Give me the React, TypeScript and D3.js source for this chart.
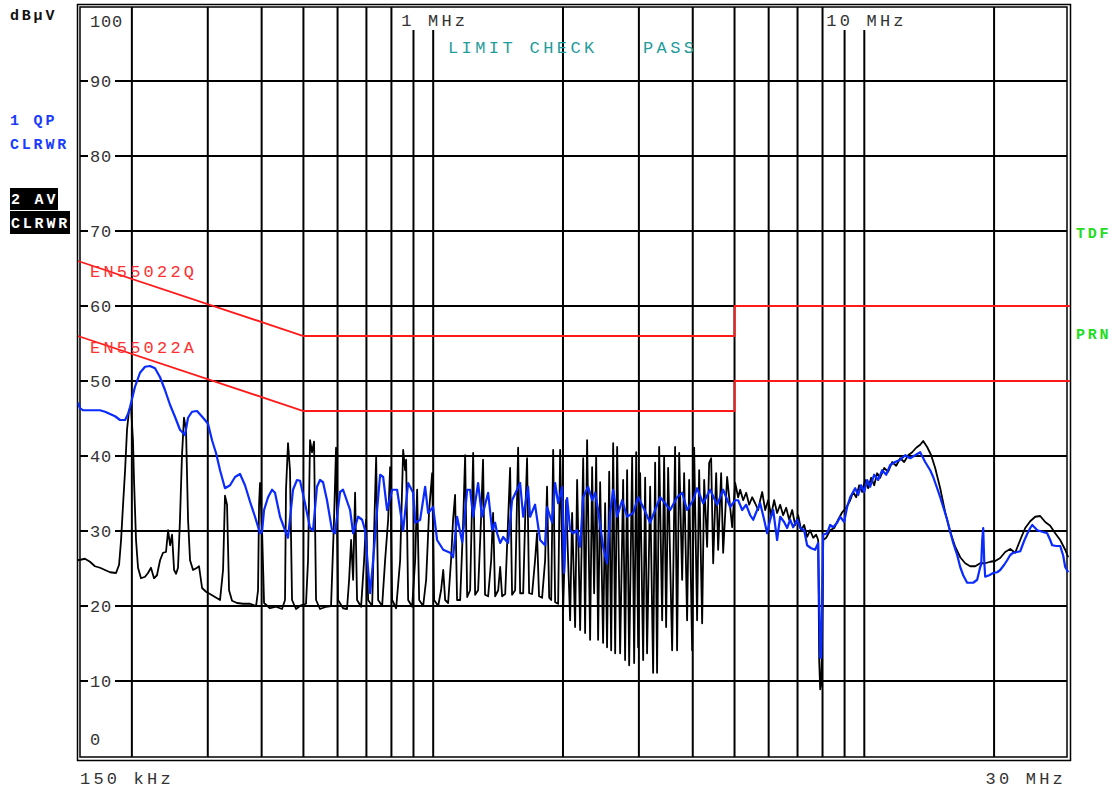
import React, { useRef, useEffect } from "react";
import * as d3 from "d3";

// AV trace (black), frequency in kHz / level in dBµV
const AV_FREQ_KHZ = [
  150, 155.7, 159.9, 164.2, 168.7, 173.3, 178, 183.8, 186.8, 188.8, 190.8, 192.9, 194.9, 197, 199.1, 201.2, 202.3,
  204.5, 206.7, 210, 214.6, 218, 221.5, 225.1, 228.7, 232.5, 236.2, 240, 242.7, 245.3, 247.9, 250.6, 253.3, 255.9,
  258.6, 261.4, 264.2, 267.1, 270, 272.9, 277.3, 283.3, 286.3, 291, 297.2, 303.6, 311.8, 320.3, 325.5, 328.9, 332.5,
  336.1, 341.5, 350.7, 362.2, 376, 388.3, 392.4, 394.5, 396.6, 400.9, 405.2, 418.3, 432, 446, 453.2, 455.6, 460.5,
  465.4, 470.5, 480.6, 493.6, 507, 512.5, 518, 523.5, 529.2, 534.9, 546.4, 564.2, 579.5, 588.8, 595.2, 601.6, 617.9,
  631.1, 638.2, 645, 652, 658.9, 665.9, 680.4, 691.4, 698.9, 706.5, 721.8, 729.5, 737.4, 745.2, 761.3, 773.5, 786.1,
  794.5, 803.1, 820.5, 838.2, 851.8, 860.8, 865.4, 874.8, 893.7, 908.2, 917.8, 927.8, 947.8, 963.1, 978.6, 994.4,
  1005, 1027, 1043, 1055, 1066, 1083, 1100, 1112, 1124, 1136, 1155, 1174, 1186, 1199, 1218, 1238, 1251, 1271, 1291,
  1305, 1319, 1341, 1363, 1377, 1392, 1415, 1430, 1445, 1469, 1492, 1508, 1524, 1549, 1574, 1591, 1617, 1634, 1651,
  1669, 1696, 1723, 1741, 1760, 1789, 1818, 1837, 1858, 1878, 1898, 1918, 1949, 1970, 2002, 2034, 2078, 2100, 2134,
  2157, 2192, 2228, 2251, 2275, 2312, 2337, 2362, 2388, 2413, 2439, 2478, 2505, 2531, 2560, 2587, 2615, 2643, 2671,
  2714, 2758, 2787, 2817, 2848, 2894, 2925, 2957, 2988, 3020, 3069, 3102, 3134, 3186, 3237, 3272, 3306, 3343, 3397,
  3433, 3470, 3507, 3583, 3640, 3679, 3720, 3780, 3820, 3881, 3924, 3987, 4030, 4094, 4139, 4206, 4251, 4319, 4366,
  4413, 4461, 4533, 4581, 4655, 4705, 4806, 4937, 5017, 5098, 5153, 5236, 5321, 5407, 5494, 5582, 5673, 5734, 5796,
  5889, 5984, 6080, 6178, 6277, 6380, 6483, 6588, 6695, 6803, 6912, 7024, 7137, 7252, 7368, 7488, 7610, 7733, 7816,
  7858, 7900, 7942, 7984, 8027, 8158, 8333, 8513, 8697, 8885, 9077, 9273, 9424, 9576, 9730, 9887, 10046, 10209,
  10373, 10541, 10709, 10884, 11119, 11360, 11605, 11856, 12112, 12373, 12641, 12914, 13193, 13478, 13696, 13988,
  14293, 14602, 14998, 15403, 15821, 16248, 16689, 17139, 17604, 18080, 18571, 19072, 19590, 20119, 20664, 21222,
  21798, 22387, 22994, 23616, 24256, 24911, 25587, 26278, 26991, 27720, 28471, 29240, 29716,
];
const AV_DBUV = [
  26.1, 26.3, 25.9, 25.3, 25.1, 24.8, 24.5, 24.4, 25.5, 28.8, 33.5, 38.1, 43.5, 46.1, 46.5, 42.1, 36.8,
  28.8, 25.1, 23.7, 23.9, 24.4, 25.1, 23.7, 24.1, 26.1, 27.1, 27.2, 30.1, 28.1, 29.5, 24.8, 24.3, 25.1,
  31.5, 40.1, 45.1, 43.5, 31.5, 26.1, 24.8, 25.1, 25.3, 22.4, 21.9, 21.6, 21.2, 20.8, 24.8, 34.7, 33.5,
  22.1, 20.7, 20.4, 20.3, 20.3, 20.0, 22.1, 33.5, 36.4, 30.1, 20.4, 19.7, 19.9, 19.6, 20.8, 35.5, 41.7,
  38.1, 20.8, 19.6, 20.1, 20.3, 26.1, 42.1, 40.5, 41.9, 20.8, 19.6, 19.9, 20.0, 31.5, 41.1, 20.8, 19.7,
  19.6, 23.5, 28.8, 23.5, 35.1, 20.8, 19.9, 26.1, 31.5, 20.8, 20.0, 30.1, 39.9, 20.8, 20.0, 26.1, 31.5,
  38.5, 20.8, 19.7, 26.1, 40.8, 38.1, 39.5, 20.8, 19.9, 26.1, 35.5, 20.8, 20.0, 23.5, 32.8, 37.7,
  20.8, 20.0, 22.1, 24.8, 20.8, 20.4, 26.1, 31.5, 34.8, 20.8, 20.8, 31.5, 40.1, 21.2, 22.1, 40.4, 21.5, 22.1, 31.5,
  39.5, 21.5, 21.3, 26.1, 32.4, 21.3, 22.1, 25.2, 21.3, 21.6, 31.5, 38.4, 21.5, 22.1, 41.1, 21.7, 21.7, 31.5, 39.7,
  21.7, 21.6, 26.1, 29.7, 21.3, 21.1, 26.1, 35.9, 21.1, 20.8, 40.8, 20.5, 20.3, 40.8, 19.5, 34.1, 18.1, 32.4, 17.2,
  36.8, 16.8, 39.7, 16.4, 42.1, 15.5, 38.5, 21.7, 39.9, 15.5, 36.5, 15.1, 33.7, 14.5, 37.9, 14.1, 41.7, 13.7, 41.2,
  13.7, 36.8, 12.8, 38.1, 12.1, 39.9, 12.4, 40.5, 14.5, 37.7, 12.8, 37.1, 13.7, 35.9, 11.1, 39.1, 11.1, 41.2, 18.1,
  39.9, 17.2, 38.4, 14.1, 41.2, 14.1, 40.4, 23.5, 37.7, 18.1, 36.8, 14.1, 41.1, 18.1, 38.1, 17.7, 36.8, 27.9, 39.1,
  39.7, 25.7, 37.7, 27.5, 37.7, 27.1, 37.2, 30.5, 36.4, 34.5, 35.5, 34.1, 35.1, 33.5, 34.5, 33.7, 32.8, 34.1, 35.2,
  32.8, 34.1, 32.1, 34.1, 32.4, 33.5, 32.1, 33.1, 31.5, 32.8, 30.8, 32.1, 30.1, 30.8, 29.2, 30.1, 29.1, 29.5, 28.8,
  12.8, 8.9, 9.5, 15.5, 28.8, 29.1, 30.1, 30.4, 31.5, 32.5, 33.1, 34.1, 35.2, 34.5, 36.1, 35.2, 36.8, 35.7,
  37.1, 36.1, 37.7, 37.1, 38.4, 37.9, 39.2, 38.7, 39.7, 39.2, 40.1, 40.5, 41.1, 41.5, 42.0, 41.2,
  40.1, 38.4, 35.7, 32.5, 29.9, 27.9, 26.5, 25.7, 25.3, 25.3, 25.7, 25.7, 25.9, 26.0, 26.4, 27.2,
  27.6, 27.1, 28.8, 30.4, 31.3, 31.9, 32.0, 31.2, 30.7, 29.7, 28.8, 27.5, 26.5,
];

// QP trace (blue)
const QP_FREQ_KHZ = [
  150, 151.6, 154, 159.9, 168.7, 173.3, 178, 182.8, 187.8, 192.9, 195.9, 198, 203.3, 208.9, 214.6, 220.3, 226.3,
  232.5, 238.7, 245.3, 251.9, 258.6, 265.6, 270, 275.8, 283.3, 292.5, 300.4, 306.9, 313.5, 320.3, 328.9, 337.9, 347,
  356.4, 366, 376, 386.1, 396.6, 400.9, 405.2, 413.9, 422.8, 429.6, 441.3, 453.2, 460.5, 473, 483.1, 491, 504.3, 518,
  526.4, 537.6, 546.4, 555.3, 567.1, 582.6, 592, 608, 617.9, 641.6, 652, 669.6, 684.1, 695.1, 706.5, 714.1, 725.6,
  741.1, 753.2, 765.4, 781.7, 803.1, 824.6, 838.2, 851.8, 874.8, 898.5, 908.2, 932.7, 957.9, 973.4, 999.8, 1021,
  1055, 1095, 1112, 1136, 1168, 1199, 1218, 1238, 1271, 1298, 1341, 1370, 1392, 1407, 1430, 1453, 1492, 1524, 1591,
  1617, 1660, 1678, 1723, 1770, 1818, 1837, 1888, 1918, 1949, 1991, 2012, 2045, 2078, 2112, 2157, 2192, 2228, 2288,
  2337, 2375, 2413, 2478, 2531, 2573, 2615, 2671, 2743, 2817, 2910, 2988, 3069, 3186, 3272, 3361, 3451, 3545, 3679,
  3780, 3881, 4009, 4094, 4229, 4389, 4556, 4705, 4885, 5017, 5098, 5208, 5321, 5436, 5524, 5641, 5734, 5857, 5951,
  6048, 6146, 6211, 6277, 6380, 6517, 6621, 6730, 6839, 6985, 7099, 7252, 7368, 7528, 7691, 7816, 7858, 7900, 7942,
  7984, 8027, 8199, 8333, 8468, 8649, 8790, 8980, 9123, 9273, 9524, 9678, 9834, 9993, 10152, 10318, 10541, 10769,
  11002, 11240, 11482, 11792, 12112, 12440, 12776, 13121, 13478, 13842, 14218, 14448, 14756, 14998, 15321, 15566,
  15821, 16077, 16420, 16689, 16959, 17321, 17604, 17890, 18272, 18571, 18670, 18771, 18872, 18971, 19072, 19487,
  19907, 20332, 20664, 21110, 21447, 21798, 22151, 22624, 22994, 23490, 23866, 24256, 24517, 24911, 25175, 25863,
  26556, 26991, 27282, 27872, 28471, 28933, 29240, 29716,
];
const QP_DBUV = [
  47.1, 46.4, 46.1, 46.1, 46.1, 45.9, 45.6, 45.3, 44.8, 44.8, 45.6, 46.5, 49.2, 51.1, 51.9, 52.0, 51.7,
  50.5, 48.8, 46.8, 45.2, 43.5, 42.8, 45.1, 45.9, 46.0, 45.1, 44.3, 42.1, 40.4, 38.1, 35.7, 36.1, 37.2,
  37.6, 36.1, 33.9, 31.9, 29.7, 29.9, 32.8, 34.5, 35.5, 35.1, 31.9, 30.1, 29.1, 35.5, 36.8, 36.7, 33.7, 30.4,
  30.1, 35.9, 36.8, 36.5, 34.1, 30.1, 29.7, 35.2, 35.5, 32.8, 29.7, 31.9, 31.5, 30.1, 24.8, 21.7, 26.1,
  32.8, 37.5, 37.2, 32.8, 35.5, 35.5, 32.8, 30.1, 36.4, 35.1, 31.1, 31.5, 35.9, 32.4, 33.2, 28.8,
  27.5, 27.1, 26.5, 31.9, 28.5, 35.5, 35.5, 31.9, 36.4, 31.9, 35.1, 30.1, 31.1, 29.7, 28.4, 29.2, 28.4, 34.1, 36.4,
  31.9, 35.9, 31.9, 33.5, 28.8, 28.1, 33.2, 31.1, 36.4, 33.7, 35.9, 24.4, 34.4, 30.1, 29.7, 30.1, 27.9, 34.5, 35.9,
  34.1, 35.1, 32.8, 27.9, 25.7, 32.4, 35.5, 31.9, 34.1, 31.9, 32.4, 34.5, 33.2, 31.1, 32.8, 34.5, 33.7, 32.8, 34.5,
  35.1, 32.8, 34.1, 35.7, 33.7, 35.5, 33.5, 35.5, 33.2, 34.1, 34.1, 32.8, 33.5, 32.1, 31.5, 32.8, 33.7, 31.5, 29.7,
  31.5, 32.8, 30.8, 28.8, 31.9, 31.2, 30.4, 31.5, 30.5, 31.5, 30.4, 30.1, 28.1, 27.7, 27.5, 28.4, 20.8, 13.1, 13.1,
  20.8, 29.5, 29.7, 30.8, 30.5, 31.1, 31.9, 31.2, 33.2, 34.5, 35.7, 34.8, 36.1, 35.2, 36.8, 35.9, 37.5, 36.8,
  38.1, 37.5, 38.8, 39.2, 39.5, 40.1, 39.7, 40.1, 40.5, 39.2, 38.1, 37.2, 35.7, 34.5, 32.8, 31.5,
  29.9, 28.4, 26.8, 25.2, 24.1, 23.1, 23.1, 23.1, 23.5, 25.2, 25.5, 28.8, 30.4, 26.1, 23.9, 24.1,
  24.4, 24.5, 24.8, 25.5, 26.1, 26.8, 27.1, 27.2, 27.3, 28.7, 29.6, 30.4, 30.8, 30.4, 30.1, 29.9,
  29.7, 28.8, 28.1, 28.0, 28.0, 26.7, 25.2, 24.5,
];

// EN55022 limit lines
const LIMIT_FREQ_KHZ = [150, 500, 5000, 5000, 30000];
const LIMIT_QP_DBUV = [66, 56, 56, 60, 60];
const LIMIT_AV_DBUV = [56, 46, 46, 50, 50];

const GRID_FREQ_KHZ = [
  200, 300, 400, 500, 600, 700, 800, 900, 1000, 2000, 3000, 4000, 5000, 6000, 7000, 8000, 9000, 10000, 20000,
];
const GRID_DB = [10, 20, 30, 40, 50, 60, 70, 80, 90];
const Y_LABELS = [0, 10, 20, 30, 40, 50, 60, 70, 80, 90, 100];
const TOP_FREQ_LABELS = [
  { f: 1000, text: "1 MHz", dx: -32 },
  { f: 10000, text: "10 MHz", dx: -38 },
];

const W = 1120;
const H = 791;
const MONO = '"Courier New", "Liberation Mono", monospace';

const EmiChart: React.FC = () => {
  const svgRef = useRef<SVGSVGElement | null>(null);

  useEffect(() => {
    if (!svgRef.current) return;
    const svg = d3.select(svgRef.current);
    svg.selectAll("*").remove();

    const x = d3.scaleLog().domain([150, 30000]).range([78, 1070]);
    const y = d3.scaleLinear().domain([0, 100]).range([756, 6]);
    const left = 80;
    const right = 1067;
    const top = 7;
    const bottom = 757;

    svg.append("rect").attr("width", W).attr("height", H).attr("fill", "#fff");

    /* vertical grid */
    const gapped = new Set([900, 1000, 9000, 10000]);
    svg
      .append("g")
      .selectAll("line")
      .data(GRID_FREQ_KHZ)
      .join("line")
      .attr("x1", (d) => x(d))
      .attr("x2", (d) => x(d))
      .attr("y1", (d) => (gapped.has(d) ? 30 : top))
      .attr("y2", bottom)
      .attr("stroke", "#000")
      .attr("stroke-width", 2);

    /* horizontal grid, broken for the left labels */
    const hg = svg.append("g");
    hg.selectAll(".stub")
      .data(GRID_DB)
      .join("line")
      .attr("x1", left)
      .attr("x2", 88)
      .attr("y1", (d) => y(d))
      .attr("y2", (d) => y(d))
      .attr("stroke", "#000")
      .attr("stroke-width", 2);
    hg.selectAll(".long")
      .data(GRID_DB)
      .join("line")
      .attr("x1", 115)
      .attr("x2", right)
      .attr("y1", (d) => y(d))
      .attr("y2", (d) => y(d))
      .attr("stroke", "#000")
      .attr("stroke-width", 2);

    /* y labels */
    svg
      .append("g")
      .selectAll("text")
      .data(Y_LABELS)
      .join("text")
      .attr("x", 90)
      .attr("y", (d) => (d === 100 ? y(d) + 21 : d === 0 ? y(d) - 11 : y(d) + 6))
      .attr("font-family", MONO)
      .attr("font-size", 17)
      .attr("letter-spacing", 0.8)
      .attr("fill", "#333")
      .text((d) => `${d}`);

    /* top frequency labels */
    svg
      .append("g")
      .selectAll("text")
      .data(TOP_FREQ_LABELS)
      .join("text")
      .attr("x", (d) => x(d.f) + d.dx)
      .attr("y", 26)
      .attr("font-family", MONO)
      .attr("font-size", 17)
      .attr("letter-spacing", 3.2)
      .attr("fill", "#333")
      .text((d) => d.text);

    /* frame (double line) */
    svg
      .append("rect")
      .attr("x", 77.5)
      .attr("y", 4.5)
      .attr("width", 993)
      .attr("height", 756)
      .attr("fill", "none")
      .attr("stroke", "#000")
      .attr("stroke-width", 1.5);
    svg
      .append("rect")
      .attr("x", left)
      .attr("y", top)
      .attr("width", right - left)
      .attr("height", bottom - top)
      .attr("fill", "none")
      .attr("stroke", "#000")
      .attr("stroke-width", 1.5);

    /* limit lines */
    const limLine = d3
      .line<number>()
      .x((_, i) => x(LIMIT_FREQ_KHZ[i]))
      .y((d) => y(d));
    [LIMIT_QP_DBUV, LIMIT_AV_DBUV].forEach((lim) => {
      svg
        .append("path")
        .attr("d", limLine(lim)!)
        .attr("fill", "none")
        .attr("stroke", "#ff1a1a")
        .attr("stroke-width", 1.8);
    });
    svg
      .append("text")
      .attr("x", 90)
      .attr("y", 277)
      .attr("font-family", MONO)
      .attr("font-size", 17)
      .attr("letter-spacing", 3.2)
      .attr("fill", "#ff3030")
      .text("EN55022Q");
    svg
      .append("text")
      .attr("x", 90)
      .attr("y", 353)
      .attr("font-family", MONO)
      .attr("font-size", 17)
      .attr("letter-spacing", 3.2)
      .attr("fill", "#ff3030")
      .text("EN55022A");

    /* traces */
    const avLine = d3
      .line<number>()
      .x((_, i) => x(AV_FREQ_KHZ[i]))
      .y((d) => y(d));
    const qpLine = d3
      .line<number>()
      .x((_, i) => x(QP_FREQ_KHZ[i]))
      .y((d) => y(d));
    svg
      .append("path")
      .attr("d", avLine(AV_DBUV)!)
      .attr("fill", "none")
      .attr("stroke", "#000")
      .attr("stroke-width", 1.8)
      .attr("stroke-linejoin", "round");
    svg
      .append("path")
      .attr("d", qpLine(QP_DBUV)!)
      .attr("fill", "none")
      .attr("stroke", "#0a2bff")
      .attr("stroke-width", 2.2)
      .attr("stroke-linejoin", "round");

    /* limit check */
    svg
      .append("text")
      .attr("x", 448)
      .attr("y", 53)
      .attr("font-family", MONO)
      .attr("font-size", 17)
      .attr("letter-spacing", 3.4)
      .attr("fill", "#1f9c9c")
      .text("LIMIT CHECK");
    svg
      .append("text")
      .attr("x", 643)
      .attr("y", 53)
      .attr("font-family", MONO)
      .attr("font-size", 17)
      .attr("letter-spacing", 3.4)
      .attr("fill", "#1f9c9c")
      .text("PASS");

    /* x axis end labels */
    svg
      .append("text")
      .attr("x", 80)
      .attr("y", 784)
      .attr("font-family", MONO)
      .attr("font-size", 17)
      .attr("letter-spacing", 3.2)
      .attr("fill", "#333")
      .text("150 kHz");
    svg
      .append("text")
      .attr("x", 1066)
      .attr("y", 784)
      .attr("text-anchor", "end")
      .attr("font-family", MONO)
      .attr("font-size", 17)
      .attr("letter-spacing", 3.2)
      .attr("fill", "#333")
      .text("30 MHz");

    /* side annotations */
    const side = (tx: number, ty: number, s: string, fill: string) =>
      svg
        .append("text")
        .attr("x", tx)
        .attr("y", ty)
        .attr("font-family", MONO)
        .attr("font-size", 15)
        .attr("font-weight", "bold")
        .attr("letter-spacing", 2.8)
        .attr("fill", fill)
        .text(s);
    side(10, 20, "dBµV", "#111");
    side(10, 125, "1 QP", "#1a3cff");
    side(10, 149, "CLRWR", "#1a3cff");
    svg.append("rect").attr("x", 10).attr("y", 188).attr("width", 48).attr("height", 22).attr("fill", "#000");
    svg.append("rect").attr("x", 10).attr("y", 211).attr("width", 60).attr("height", 23).attr("fill", "#000");
    side(11, 204, "2 AV", "#fff");
    side(11, 228, "CLRWR", "#fff");
    side(1076, 238, "TDF", "#22dd22");
    side(1076, 339, "PRN", "#22dd22");
  }, []);

  return (
    <svg
      ref={svgRef}
      width={W}
      height={H}
      style={{ position: "absolute", left: 0, top: 0, display: "block" }}
    />
  );
};

export default function App() {
  return <EmiChart />;
}
